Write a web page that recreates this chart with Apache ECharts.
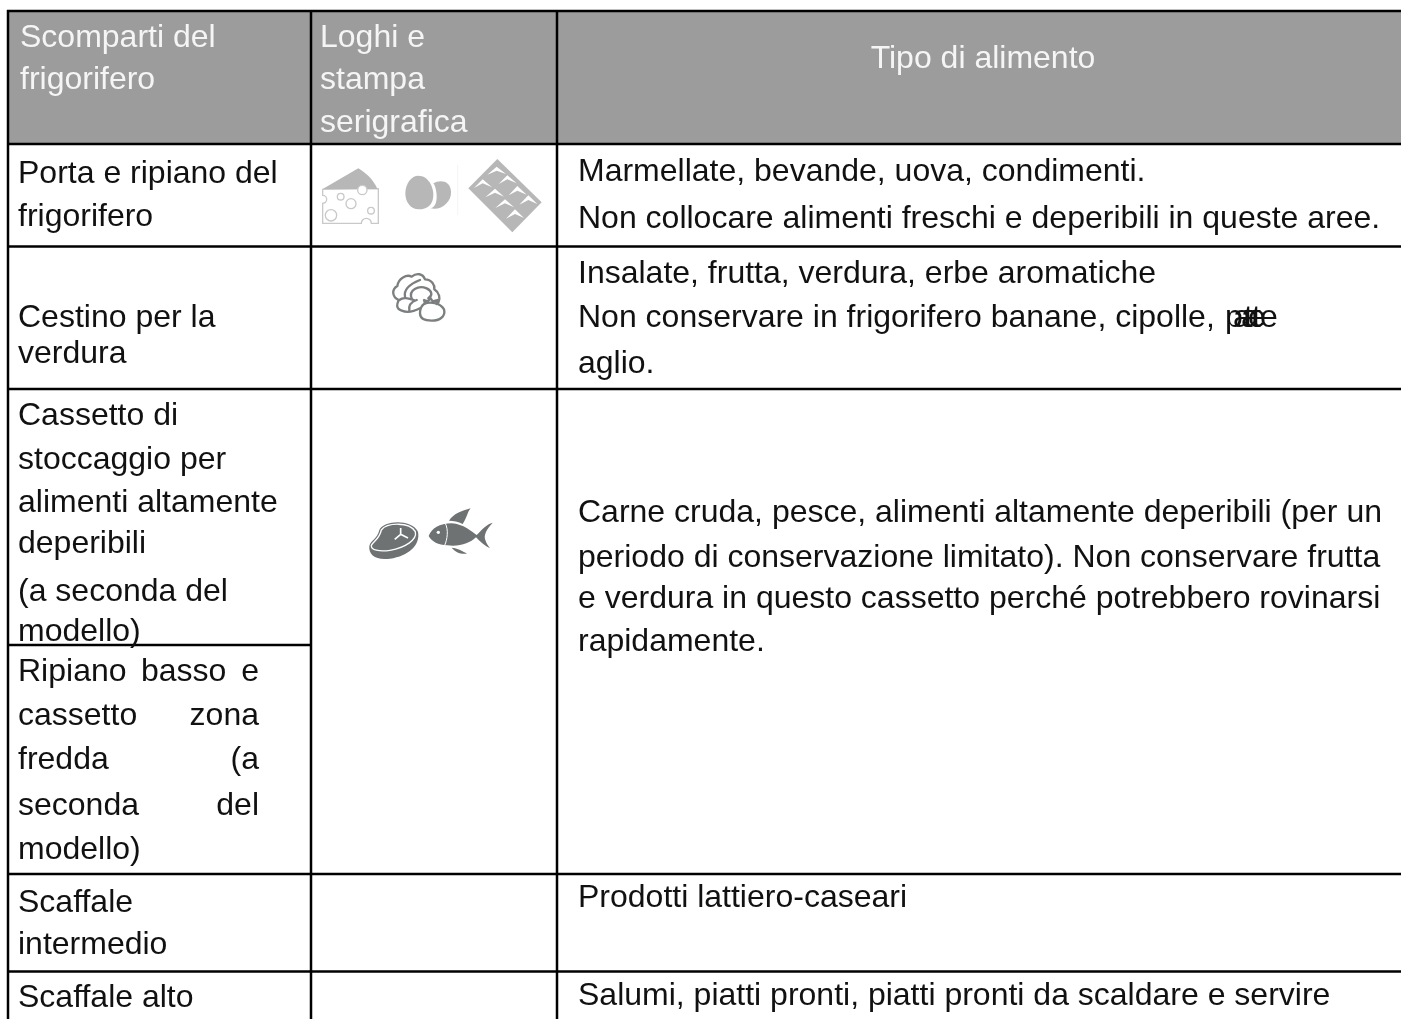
<!DOCTYPE html>
<html>
<head>
<meta charset="utf-8">
<style>
  html, body { margin: 0; padding: 0; background: #fff; }
  #main { width: 1401px; height: 1019px; }
</style>
<script src="https://cdn.jsdelivr.net/npm/echarts@6/dist/echarts.min.js"></script>
</head>
<body>
<div id="main"></div>
<script>
// testi della tabella
const headers = [
  ['Scomparti del', 'frigorifero'],
  ['Loghi e', 'stampa', 'serigrafica'],
  ['Tipo di alimento']
]
const compartments = [
  'Porta e ripiano del', 'frigorifero',
  'Cestino per la', 'verdura',
  'Cassetto di', 'stoccaggio per', 'alimenti altamente', 'deperibili', '(a seconda del', 'modello)',
  'modello)',
  'Scaffale', 'intermedio',
  'Scaffale alto'
]
const compartmentsY = [174, 217, 318, 354, 416, 460, 503, 544, 592, 632, 850, 903, 945, 998]
// righe giustificate: parola a sinistra, parola a destra
const justified = [['Ripiano', 'basso', 'e'], ['cassetto', 'zona'], ['fredda', '(a'], ['seconda', 'del']]
const justifiedY = [672, 716, 760, 806]
const foods = [
  'Marmellate, bevande, uova, condimenti.',
  'Non collocare alimenti freschi e deperibili in queste aree.',
  'Insalate, frutta, verdura, erbe aromatiche',
  'Non conservare in frigorifero banane, cipolle,',
  'aglio.',
  'Carne cruda, pesce, alimenti altamente deperibili (per un',
  'periodo di conservazione limitato). Non conservare frutta',
  'e verdura in questo cassetto perché potrebbero rovinarsi',
  'rapidamente.',
  'Prodotti lattiero-caseari',
  'Salumi, piatti pronti, piatti pronti da scaldare e servire'
]
const foodsY = [172, 219, 274, 318, 364, 513, 558, 599, 642, 898, 996]
// "patate e" stampato sovrapposto
const overprintLetters = ['p', 'a', 't', 'a', 't', 'e', 'e']
const overprintX = [1225, 1233, 1244, 1241, 1252, 1248, 1260]

const FONT = '"Liberation Sans", Arial, sans-serif'
const BLACK = '#111'
const HEAD_TEXT = '#f5f5f5'
const ICON_LIGHT = '#b7b7b7'
const ICON_DARK = '#6e7273'

const graphics = []

function text(str, x, y, opt) {
  graphics.push({
    type: 'text',
    z: 10,
    style: Object.assign({
      text: str, x: x, y: y, fill: BLACK,
      font: '32px ' + FONT,
      textAlign: 'left', textVerticalAlign: 'middle'
    }, opt || {})
  })
}
function hline(x1, x2, y) {
  graphics.push({ type: 'line', z: 5, shape: { x1, x2, y1: y, y2: y }, style: { stroke: '#000', lineWidth: 2.5 } })
}
function vline(x, y1, y2) {
  graphics.push({ type: 'line', z: 5, shape: { x1: x, x2: x, y1, y2 }, style: { stroke: '#000', lineWidth: 2.5 } })
}

// sfondo intestazione e griglia
graphics.push({ type: 'rect', z: 1, shape: { x: 8, y: 11, width: 1393, height: 133 }, style: { fill: '#9c9c9c' } })
hline(7, 1401, 11)
hline(7, 1401, 144)
hline(7, 1401, 246.5)
hline(7, 1401, 389)
hline(7, 311, 645)
hline(7, 1401, 874)
hline(7, 1401, 971.5)
vline(8, 10, 1019)
vline(311, 10, 1019)
vline(557, 10, 1019)

// intestazione
const headStyle = { fill: HEAD_TEXT, font: '32px ' + FONT }
text(headers[0][0], 20, 38, headStyle)
text(headers[0][1], 20, 80, headStyle)
text(headers[1][0], 320, 38, headStyle)
text(headers[1][1], 320, 80, headStyle)
text(headers[1][2], 320, 123, headStyle)
text(headers[2][0], 983, 59, Object.assign({ textAlign: 'center' }, headStyle))

// colonne di testo
compartments.forEach((s, i) => text(s, 18, compartmentsY[i]))
justified.forEach((p, i) => {
  text(p[0], 18, justifiedY[i])
  text(p[p.length - 1], 259, justifiedY[i], { textAlign: 'right' })
  if (p.length === 3) text(p[1], 141, justifiedY[i])
})
foods.forEach((s, i) => text(s, 578, foodsY[i]))
overprintLetters.forEach((s, i) => text(s, overprintX[i], foodsY[3]))

// il tipo 'path' del graphic non va in questa build: registro una forma per ogni tracciato
let shapeCount = 0
function p(d, style) {
  const name = 'iconPath' + shapeCount++
  echarts.graphic.registerShape(name, echarts.graphic.extendPath(d))
  return { type: name, shape: {}, style }
}
function c(cx, cy, r, style) {
  return { type: 'circle', shape: { cx, cy, r }, style }
}
// icone disegnate nelle coordinate degli ingrandimenti (scala 3x)
function icon(ox, oy, children) {
  graphics.push({ type: 'group', x: ox, y: oy, scaleX: 1 / 3, scaleY: 1 / 3, z: 8, children })
}
const ring = { fill: '#fff', stroke: '#c9c9c9', lineWidth: 4 }
icon(300, 140, [
  // formaggio
  p('M68 148 L68 166 A12 12 0 0 1 68 190 L68 250 L184 250 A15 15 0 0 1 214 250 L235 250 L235 146 Z', ring),
  p('M68 147 L175 85 C200 100 222 122 232 147 Z', { fill: ICON_LIGHT }),
  c(187, 150, 14, ring),
  c(122, 170, 10, ring),
  c(153, 191, 15, ring),
  c(93, 226, 17, ring),
  c(213, 212, 10, ring),
  // uova
  p('M392 205 C420 200 410 140 400 130 C420 118 452 122 453 155 C455 185 425 212 392 205 Z', { fill: ICON_LIGHT }),
  p('M355 107 C385 107 400 140 400 165 C400 195 380 208 357 208 C330 208 316 185 316 160 C316 130 335 107 355 107 Z', { fill: ICON_LIGHT }),
  { type: 'line', shape: { x1: 473, y1: 75, x2: 473, y2: 225 }, style: { stroke: '#efefef', lineWidth: 2 } },
  // vassoio
  p('M592 57 L725 187 L637 277 L505 145 Z', { fill: ICON_LIGHT }),
  p('M562 104 L590 80 L618 102 L590 92 Z', { fill: '#fff' }),
  p('M596 132 L622 106 L650 130 L622 118 Z', { fill: '#fff' }),
  p('M522 144 L548 118 L576 142 L548 130 Z', { fill: '#fff' }),
  p('M556 172 L585 146 L612 170 L585 158 Z', { fill: '#fff' }),
  p('M626 166 L652 138 L680 164 L652 152 Z', { fill: '#fff' }),
  p('M586 204 L615 178 L642 202 L615 190 Z', { fill: '#fff' }),
  p('M658 194 L685 166 L712 192 L685 180 Z', { fill: '#fff' }),
  p('M618 236 L645 208 L672 234 L645 222 Z', { fill: '#fff' })
])
const leaf = { fill: 'none', stroke: '#7b7f80', lineWidth: 7, lineJoin: 'round', lineCap: 'round' }
icon(340, 250, [
  // lattuga
  p('M240 175 C215 188 200 188 185 182 C165 175 172 160 176 150 C155 140 155 118 172 108 C175 85 200 72 215 80 C230 68 248 70 255 88 C275 88 285 105 283 118 C298 128 302 145 295 158', leaf),
  p('M178 150 C190 140 205 145 222 150', leaf),
  p('M195 140 C190 115 215 100 240 90', leaf),
  p('M215 145 C205 120 235 105 260 115 C275 122 280 135 265 145', leaf),
  p('M208 182 C205 165 215 155 230 150', leaf),
  // pomodoro
  p('M252 162 C270 154 300 158 312 178 C318 200 298 212 275 212 C255 212 240 205 240 190 C240 175 245 167 252 162 Z', Object.assign({}, leaf, { fill: '#fff' })),
  p('M255 160 L252 150 L264 154 L271 144 L278 154 L292 150 L290 162', leaf)
])
icon(340, 480, [
  // bistecca
  p('M118 150 C130 122 212 115 234 155 C242 195 205 228 150 236 C108 242 85 225 88 198 C92 180 112 178 118 150 Z', { fill: ICON_DARK }),
  p('M124 150 C140 128 208 124 226 155 C232 180 195 203 150 211 C118 216 92 210 94 196 C100 184 118 178 124 150 Z', { fill: ICON_DARK, stroke: '#fff', lineWidth: 4 }),
  p('M182 144 L182 163 M182 163 L164 178 M182 163 L204 174', { stroke: '#fff', lineWidth: 5, fill: 'none' }),
  // pesce
  p('M266 168 C275 145 298 130 335 130 C370 132 395 155 410 165 C425 150 440 132 458 128 C440 148 430 165 436 180 C440 192 445 198 450 205 C435 198 420 185 408 172 C390 190 360 200 322 196 C295 195 275 185 266 168 Z', { fill: ICON_DARK }),
  p('M327 122 C340 102 365 92 392 85 C380 100 382 112 368 132 C355 124 340 122 327 122 Z', { fill: ICON_DARK }),
  p('M335 203 C352 204 370 214 381 221 C360 223 345 216 335 203 Z', { fill: ICON_DARK }),
  c(295, 157, 5, { fill: '#fff' }),
  p('M316 130 C326 150 322 178 314 196', { fill: 'none', stroke: '#fff', lineWidth: 3 })
])

const chart = echarts.init(document.getElementById('main'), null, { renderer: 'canvas' })
chart.setOption({
  animation: false,
  backgroundColor: '#fff',
  graphic: { elements: graphics }
})
</script>
</body>
</html>
